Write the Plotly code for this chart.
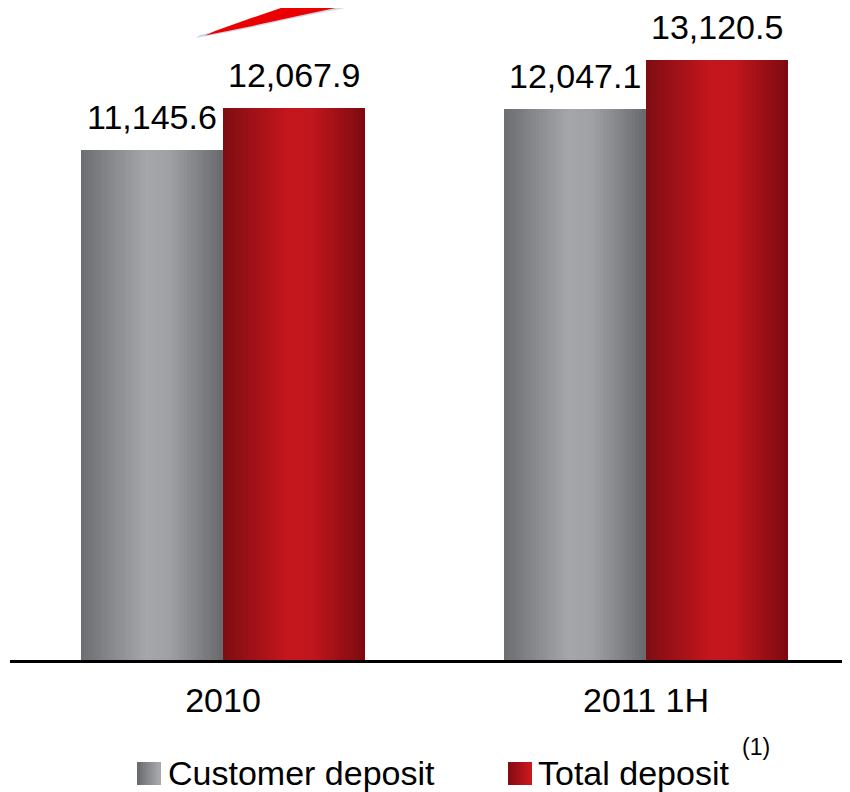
import plotly.graph_objects as go

categories = ["2010", "2011 1H"]
customer_deposit = [11145.6, 12047.1]
total_deposit = [12067.9, 13120.5]
series_names = ["Customer deposit", "Total deposit"]

OFF = 8  # page body margin
W, H = 850 - OFF, 792 - OFF
ML, MR, MT, MB = 10 - OFF, 0, 20 - OFF, 792 - 660
PW, PH = W - ML - MR, H - MT - MB
XR = [-0.5035, 1.4823]
YR = [0, 14000]
BW = 0.3357
NSTRIP = 40

gray_stops = [(0.0, (108, 109, 112)), (0.45, (165, 166, 170)), (0.62, (160, 161, 165)), (1.0, (104, 105, 108))]
red_stops = [(0.0, (125, 13, 18)), (0.45, (196, 22, 29)), (0.62, (194, 22, 29)), (1.0, (124, 10, 16))]


def interp(stops, t):
    for (t0, c0), (t1, c1) in zip(stops[:-1], stops[1:]):
        if t0 <= t <= t1:
            f = (t - t0) / (t1 - t0) if t1 > t0 else 0
            c = [round(a + (b - a) * f) for a, b in zip(c0, c1)]
            return "rgb(%d,%d,%d)" % tuple(c)
    return "rgb(%d,%d,%d)" % stops[-1][1]


fig = go.Figure()

for s, (vals, stops, off) in enumerate([(customer_deposit, gray_stops, -BW), (total_deposit, red_stops, 0.0)]):
    xs, ys, cols = [], [], []
    sw = BW / NSTRIP
    for g, v in enumerate(vals):
        for i in range(NSTRIP):
            t = (i + 0.5) / NSTRIP
            xs.append(g + off + (i + 0.5) * sw)
            ys.append(v)
            cols.append(interp(stops, t))
    fig.add_trace(go.Bar(
        x=xs, y=ys, width=sw * 1.02,
        marker=dict(color=cols, line=dict(width=0)),
        name=series_names[s], showlegend=False, hoverinfo="skip",
    ))

annotations = []
for g in range(len(categories)):
    for vals, off in [(customer_deposit, -BW / 2), (total_deposit, BW / 2)]:
        annotations.append(dict(
            x=g + off, y=vals[g], xref="x", yref="y",
            text=f"{vals[g]:,.1f}", showarrow=False,
            yanchor="bottom", xanchor="center", yshift=12,
            font=dict(size=34, color="black"),
        ))


def px2paper(px, py):
    # px, py are screen coordinates of the reference picture
    return (px - OFF - ML) / PW, (H - MB - (py - OFF)) / PH


def path_from(points):
    pts = [px2paper(x, y) for x, y in points]
    return "M " + " L ".join(f"{x:.5f},{y:.5f}" for x, y in pts) + " Z"


shapes = []
# decorative swoosh (shadow then red)
shadow = [(196, 38), (240, 30), (290, 19), (340, 9), (388, -1), (384, -3), (336, 6), (286, 16), (236, 27), (200, 35)]
red = [(205, 35.5), (250, 26.5), (300, 15.5), (340, 7), (380, -1), (310, -2), (300, 1.5), (250, 18.5), (215, 31)]
shapes.append(dict(type="path", xref="paper", yref="paper", path=path_from(shadow),
                   fillcolor="rgb(205,215,230)", line=dict(width=0), layer="above"))
shapes.append(dict(type="path", xref="paper", yref="paper", path=path_from(red),
                   fillcolor="rgb(235,0,0)", line=dict(width=0), layer="above"))

# legend squares with gradients
leg_gray = [(0.0, (104, 105, 108)), (1.0, (170, 171, 174))]
leg_red = [(0.0, (128, 12, 18)), (1.0, (205, 24, 30))]
for x0, stops in [(137, leg_gray), (508, leg_red)]:
    n = 8
    for i in range(n):
        a, b = px2paper(x0 + 23 * i / n, 785)
        c, d = px2paper(x0 + 23 * (i + 1) / n + 1.0, 762)
        shapes.append(dict(type="rect", xref="paper", yref="paper", x0=a, y0=b, x1=c, y1=d,
                           fillcolor=interp(stops, (i + 0.5) / n), line=dict(width=0)))

for txt, px, py, size in [("Customer deposit", 166, 773, 34), ("Total deposit", 536, 773, 34), ("(1)", 740, 747, 23)]:
    xp, yp = px2paper(px, py)
    annotations.append(dict(x=xp, y=yp, xref="paper", yref="paper", text=txt, showarrow=False,
                            xanchor="left", yanchor="middle", font=dict(size=size, color="black")))

fig.update_layout(
    width=W, height=H,
    margin=dict(l=ML, r=MR, t=MT, b=MB, pad=0),
    paper_bgcolor="white", plot_bgcolor="white",
    barmode="overlay", bargap=0,
    font=dict(family="Liberation Sans, Arial, sans-serif", color="black"),
    xaxis=dict(range=XR, tickvals=list(range(len(categories))), ticktext=categories,
               showgrid=False, zeroline=False, showline=True, linecolor="black", linewidth=3,
               ticks="", tickfont=dict(size=34, color="black"), ticklabelstandoff=8, fixedrange=True),
    yaxis=dict(range=YR, visible=False, showgrid=False, zeroline=False, fixedrange=True),
    annotations=annotations, shapes=shapes, showlegend=False,
)

fig.write_html("out.html")
